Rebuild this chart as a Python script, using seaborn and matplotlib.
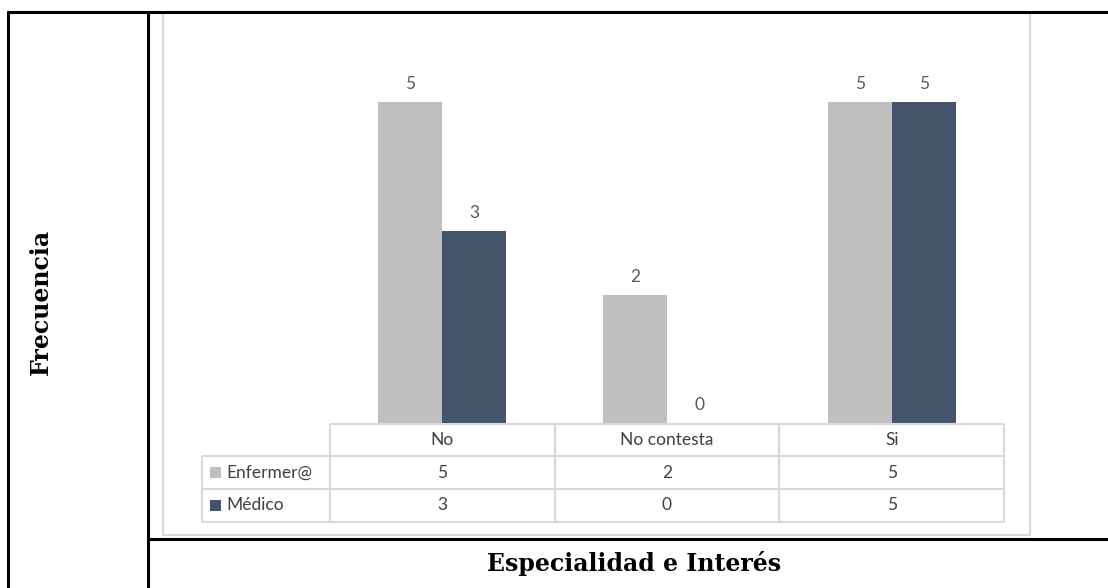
import matplotlib
matplotlib.use("Agg")
import matplotlib.pyplot as plt
from matplotlib.patches import Rectangle
from matplotlib.lines import Line2D
import pandas as pd
import seaborn as sns

# Survey answers by profession
categories = ["No", "No contesta", "Si"]
series = ["Enfermer@", "Médico"]
enfermeria = [5, 2, 5]
medico = [3, 0, 5]
colors = ["#BFBFBF", "#44546A"]

W, H = 1108, 588
sns.set_style("white")
plt.rcParams["font.family"] = ["Lato", "DejaVu Sans"]

fig = plt.figure(figsize=(W / 100, H / 100), dpi=100)


def fx(px):
    return px / W


def fy(py):
    return 1 - py / H


def hline(y, x0, x1, color, lw):
    fig.add_artist(Line2D([fx(x0), fx(x1)], [fy(y), fy(y)], color=color, lw=lw,
                          transform=fig.transFigure, solid_capstyle="butt"))


def vline(x, y0, y1, color, lw):
    fig.add_artist(Line2D([fx(x), fx(x)], [fy(y0), fy(y1)], color=color, lw=lw,
                          transform=fig.transFigure, solid_capstyle="butt"))


df = pd.DataFrame({
    "categoria": categories * 2,
    "serie": [series[0]] * len(categories) + [series[1]] * len(categories),
    "frecuencia": enfermeria + medico,
})

fs = 12.5

# Plot area aligned with the data-table columns
left, right, base, top = 330, 1004, 423, 38
ax = fig.add_axes([fx(left), fy(base), fx(right) - fx(left), fy(top) - fy(base)])
sns.barplot(data=df, x="categoria", y="frecuencia", hue="serie",
            order=categories, hue_order=series, palette=colors,
            width=0.57, gap=0, saturation=1, legend=False,
            errorbar=None, linewidth=0, ax=ax)
ax.set_xlim(-0.5, len(categories) - 0.5)
ax.set_ylim(0, 6)
ax.axis("off")
for cont in ax.containers:
    ax.bar_label(cont, fmt="%d", padding=7, color="#595959", fontsize=fs)

# Chart frame
grid = "#D9D9D9"
fig.add_artist(Rectangle((fx(163), fy(535)), fx(1030) - fx(163), fy(13) - fy(535),
                         transform=fig.transFigure, fill=False, ec=grid, lw=1.6))

# Data table under the bars
row_y = [424, 456, 489, 522]
col_x = [left + i * (right - left) / len(categories) for i in range(len(categories) + 1)]
label_x0 = 202
hline(row_y[0], col_x[0], col_x[-1], grid, 1.5)
for y in row_y[1:]:
    hline(y, label_x0, col_x[-1], grid, 1.5)
for x in col_x:
    vline(x, row_y[0], row_y[-1], grid, 1.5)
vline(label_x0, row_y[1], row_y[-1], grid, 1.5)

text_color = "#404040"
for i, cat in enumerate(categories):
    cx = (col_x[i] + col_x[i + 1]) / 2
    fig.text(fx(cx), fy((row_y[0] + row_y[1]) / 2), cat, ha="center", va="center",
             fontsize=fs, color=text_color)
    for r, vals in enumerate([enfermeria, medico]):
        cy = (row_y[r + 1] + row_y[r + 2]) / 2
        fig.text(fx(cx), fy(cy), str(vals[i]), ha="center", va="center",
                 fontsize=fs, color=text_color)

for r, (name, col) in enumerate(zip(series, colors)):
    cy = (row_y[r + 1] + row_y[r + 2]) / 2
    fig.add_artist(Rectangle((fx(210), fy(cy + 5.5)), fx(11), 11 / H,
                             transform=fig.transFigure, fc=col, ec="none"))
    fig.text(fx(226), fy(cy), name, ha="left", va="center",
             fontsize=fs, color=text_color)

# Surrounding document table
black = "#000000"
hline(12, 7, W, black, 2.2)
hline(539, 148, W, black, 2.2)
vline(8, 11, H, black, 2.2)
vline(148, 11, H, black, 2.2)

fig.text(fx(41), fy(302), "Frecuencia", rotation=90, ha="center", va="center",
         family="DejaVu Serif", fontweight="bold", fontsize=17, color="black")
fig.text(fx(634), fy(564), "Especialidad e Interés", ha="center", va="center",
         family="DejaVu Serif", fontweight="bold", fontsize=17, color="black")

fig.savefig("out.png", dpi=100, facecolor="white")
